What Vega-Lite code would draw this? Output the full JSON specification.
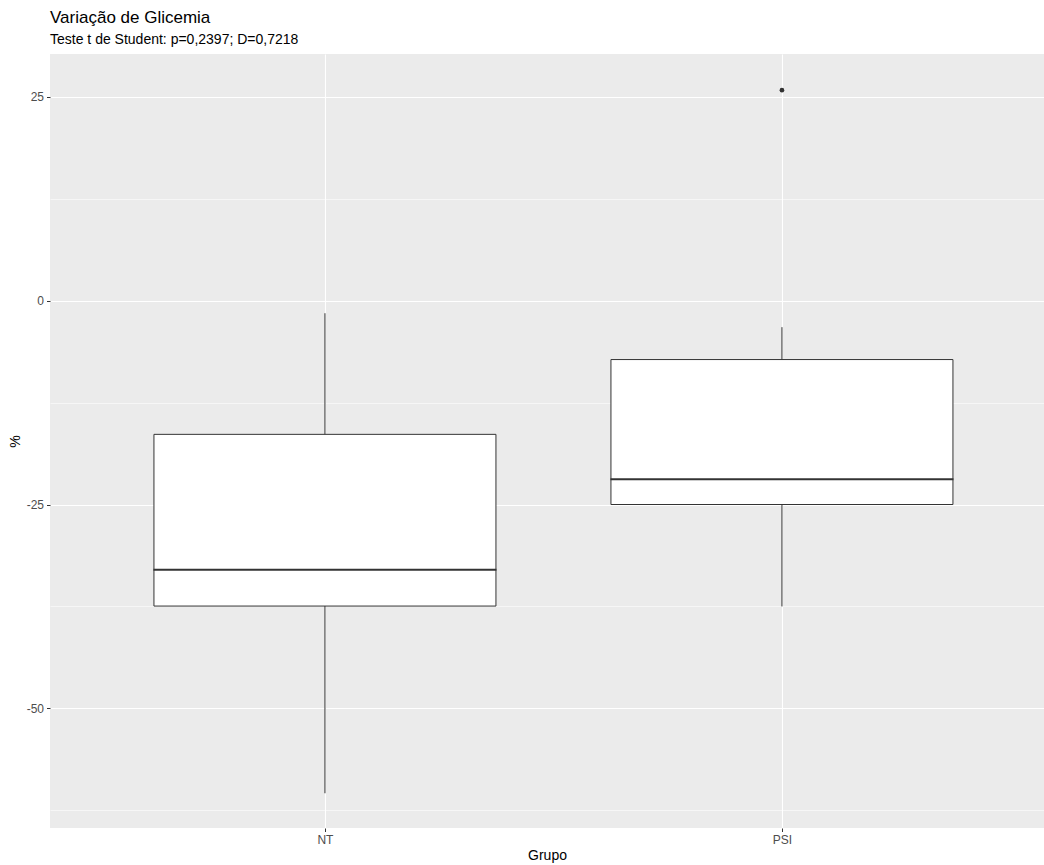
{
  "$schema": "https://vega.github.io/schema/vega-lite/v6.json",
  "width": 994,
  "height": 774,
  "autosize": {"type": "none"},
  "padding": {"left": 50, "top": 54, "right": 0, "bottom": 37},
  "background": "white",
  "config": {
    "view": {"fill": "#EBEBEB", "stroke": null},
    "font": "Liberation Sans"
  },
  "title": {
    "text": "Variação de Glicemia",
    "subtitle": "Teste t de Student: p=0,2397; D=0,7218",
    "anchor": "start",
    "frame": "group",
    "font": "Liberation Sans",
    "subtitleFont": "Liberation Sans",
    "fontSize": 17,
    "fontWeight": "normal",
    "color": "black",
    "subtitleFontSize": 14,
    "subtitleColor": "black",
    "subtitlePadding": 6,
    "offset": 6
  },
  "datasets": {
    "boxes": [
      {"Grupo": "NT", "lower": -60.4, "q1": -37.45, "median": -33.0, "q3": -16.4, "upper": -1.55},
      {"Grupo": "PSI", "lower": -37.5, "q1": -25.0, "median": -21.9, "q3": -7.23, "upper": -3.26}
    ],
    "outliers": [
      {"Grupo": "PSI", "value": 25.8}
    ]
  },
  "layer": [
    {
      "data": {"name": "boxes"},
      "mark": {"type": "rule", "color": "#333333", "strokeWidth": 1},
      "encoding": {
        "x": {
          "field": "Grupo", "type": "nominal",
          "scale": {"type": "point", "domain": ["NT", "PSI"], "padding": 0.5875, "align": 0.512},
          "axis": {
            "grid": true, "gridColor": "white", "gridWidth": 1.1,
            "domain": false, "tickColor": "#333333", "tickSize": 3.5,
            "labelAngle": 0, "labelFontSize": 12, "labelColor": "#4D4D4D", "labelPadding": 3,
            "labelFont": "Liberation Sans",
            "title": "Grupo", "titleFontSize": 14, "titleFontWeight": "normal", "titleColor": "black",
            "titleFont": "Liberation Sans", "titlePadding": 3
          }
        },
        "y": {
          "field": "lower", "type": "quantitative",
          "scale": {"domain": [-64.66, 30.23], "nice": false, "zero": false},
          "axis": {
            "values": [-50, -25, 0, 25],
            "labelExpr": "replace(datum.label, '−', '-')",
            "grid": true, "gridColor": "white", "gridWidth": 1.1,
            "domain": false, "tickColor": "#333333", "tickSize": 3.5,
            "labelFontSize": 12, "labelColor": "#4D4D4D", "labelPadding": 3,
            "labelFont": "Liberation Sans",
            "title": "%", "titleFontSize": 14, "titleFontWeight": "normal", "titleColor": "black",
            "titleFont": "Liberation Sans", "titlePadding": 4
          }
        },
        "y2": {"field": "upper"}
      }
    },
    {
      "data": {"name": "boxes"},
      "mark": {"type": "bar", "width": 342, "fill": "white", "stroke": "#333333", "strokeWidth": 1},
      "encoding": {
        "x": {"field": "Grupo", "type": "nominal",
          "scale": {"type": "point", "domain": ["NT", "PSI"], "padding": 0.5875, "align": 0.512}},
        "y": {"field": "q1", "type": "quantitative",
          "scale": {"domain": [-64.66, 30.23], "nice": false, "zero": false}, "axis": null},
        "y2": {"field": "q3"}
      }
    },
    {
      "data": {"name": "boxes"},
      "mark": {"type": "tick", "size": 343, "thickness": 2, "color": "#333333", "opacity": 1},
      "encoding": {
        "x": {"field": "Grupo", "type": "nominal",
          "scale": {"type": "point", "domain": ["NT", "PSI"], "padding": 0.5875, "align": 0.512}},
        "y": {"field": "median", "type": "quantitative",
          "scale": {"domain": [-64.66, 30.23], "nice": false, "zero": false}, "axis": null}
      }
    },
    {
      "data": {"name": "outliers"},
      "mark": {"type": "point", "filled": true, "size": 22, "color": "#333333", "opacity": 1},
      "encoding": {
        "x": {"field": "Grupo", "type": "nominal",
          "scale": {"type": "point", "domain": ["NT", "PSI"], "padding": 0.5875, "align": 0.512}},
        "y": {"field": "value", "type": "quantitative",
          "scale": {"domain": [-64.66, 30.23], "nice": false, "zero": false},
          "axis": {
            "orient": "left",
            "values": [-62.5, -37.5, -12.5, 12.5],
            "grid": true, "gridColor": "white", "gridWidth": 0.55,
            "labels": false, "ticks": false, "domain": false, "title": null
          }
        }
      }
    }
  ],
  "resolve": {"axis": {"y": "independent"}}
}
